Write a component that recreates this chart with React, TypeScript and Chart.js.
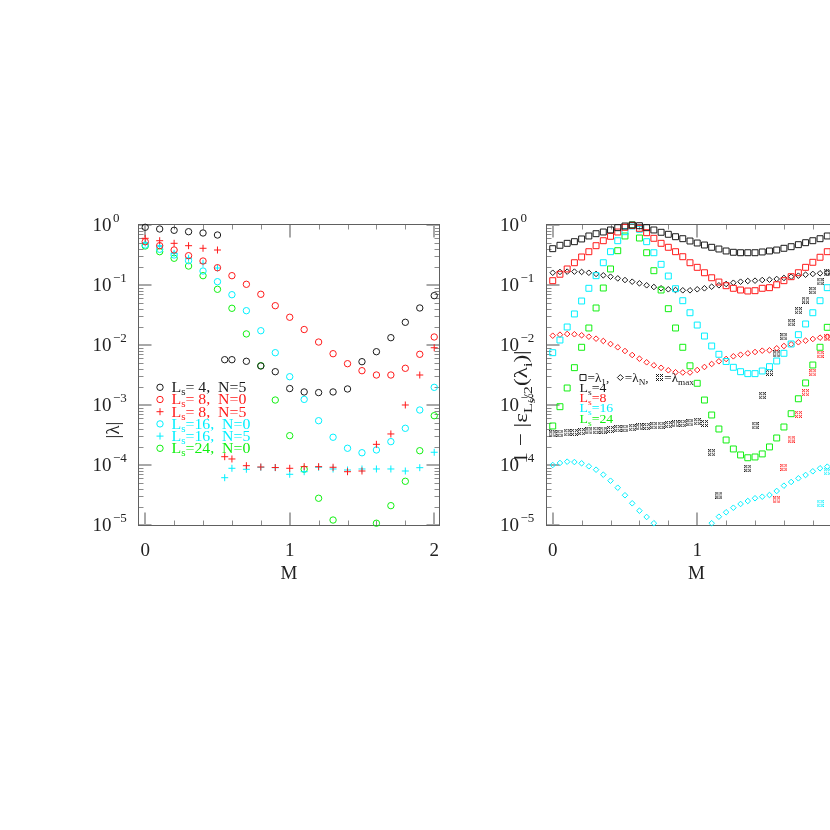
import React, { useEffect, useRef } from 'react';
import { Chart, registerables } from 'chart.js';
Chart.register(...registerables);

const SERIF = '"Liberation Serif", "DejaVu Serif", "Times New Roman", serif';

const BLACK = '#1a1a1a';
const RED = '#ff1a1a';
const CYAN = '#00f0ff';
const GREEN = '#10f010';

// ---------------- left panel data (|lambda| vs M) ----------------
const mLeft = [0, 0.1, 0.2, 0.3, 0.4, 0.5, 0.55, 0.6, 0.7, 0.8, 0.9, 1.0, 1.1, 1.2, 1.3, 1.4, 1.5, 1.6, 1.7, 1.8, 1.9, 2.0];
const ls4N5 = [0.916, 0.858, 0.816, 0.773, 0.736, 0.681, 0.00569, 0.00569, 0.00535, 0.00447, 0.00359, 0.00188, 0.00165, 0.00161, 0.00165, 0.00185, 0.00527, 0.00773, 0.01324, 0.0239, 0.0414, 0.0664];
const ls8N0 = [0.527, 0.452, 0.383, 0.308, 0.251, 0.194, null, 0.143, 0.1027, 0.07, 0.0452, 0.029, 0.0181, 0.0112, 0.00716, 0.00488, 0.00373, 0.00316, 0.00316, 0.00409, 0.007, 0.0136];
const ls8N5 = [0.6, 0.547, 0.495, 0.452, 0.409, 0.383, 1.375e-4, 1.26e-4, 9.74e-5, 9.26e-5, 9.08e-5, 8.81e-5, 9.38e-5, 9.38e-5, 9.16e-5, 7.73e-5, 7.94e-5, 2.21e-4, 3.29e-4, 1.0e-3, 3.16e-3, 9.0e-3];
const ls16N0 = [0.464, 0.394, 0.316, 0.254, 0.171, 0.1135, null, 0.0689, 0.0373, 0.0173, 0.00744, 0.00296, 0.00124, 5.47e-4, 2.9e-4, 1.9e-4, 1.6e-4, 1.78e-4, 2.45e-4, 4.09e-4, 8.25e-4, 1.97e-3];
const ls16N5 = [0.501, 0.452, 0.337, 0.279, 0.23, 0.192, 6.14e-5, 8.81e-5, 8.48e-5, 9.16e-5, 9.02e-5, 7.0e-5, 7.73e-5, 9.16e-5, 8.58e-5, 8.25e-5, 8.58e-5, 8.58e-5, 8.58e-5, 7.94e-5, 9.02e-5, 1.63e-4];
const ls24N0 = [0.447, 0.359, 0.279, 0.207, 0.143, 0.0848, null, 0.0409, 0.0153, 0.00452, 0.00121, 3.08e-4, 8.5e-5, 2.79e-5, 1.21e-5, null, null, 1.07e-5, 2.1e-5, 5.35e-5, 1.73e-4, 6.63e-4];

// ---------------- right panel data (1 - |eps|) vs M ----------------
const mRight = [0, 0.05, 0.1, 0.15, 0.2, 0.25, 0.3, 0.35, 0.4, 0.45, 0.5, 0.55, 0.6, 0.65, 0.7, 0.75, 0.8, 0.85, 0.9, 0.95, 1.0, 1.05, 1.1, 1.15, 1.2, 1.25, 1.3, 1.35, 1.4, 1.45, 1.5, 1.55, 1.6, 1.65, 1.7, 1.75, 1.8, 1.85, 1.9];
const l1Ls4 = [0.403, 0.459, 0.495, 0.527, 0.585, 0.656, 0.716, 0.764, 0.826, 0.902, 0.962, 1.0, 0.973, 0.902, 0.826, 0.756, 0.7, 0.638, 0.591, 0.541, 0.501, 0.464, 0.425, 0.398, 0.369, 0.351, 0.345, 0.345, 0.345, 0.355, 0.369, 0.383, 0.409, 0.435, 0.47, 0.507, 0.547, 0.591, 0.656];
const l1Ls8 = [0.118, 0.151, 0.185, 0.235, 0.293, 0.359, 0.452, 0.547, 0.648, 0.764, 0.916, 0.98, 0.881, 0.744, 0.6, 0.495, 0.425, 0.359, 0.296, 0.235, 0.197, 0.16, 0.132, 0.112, 0.0973, 0.0881, 0.0825, 0.0794, 0.0804, 0.0881, 0.0902, 0.101, 0.118, 0.1375, 0.16, 0.197, 0.239, 0.29, 0.359];
const l1Ls16 = [0.00744, 0.0121, 0.01995, 0.0329, 0.0541, 0.0881, 0.143, 0.235, 0.359, 0.547, 0.773, 0.962, 0.848, 0.527, 0.345, 0.221, 0.141, 0.0867, 0.0547, 0.0345, 0.0215, 0.0141, 0.00962, 0.007, 0.00531, 0.00425, 0.00359, 0.00333, 0.00333, 0.00369, 0.00435, 0.00541, 0.00727, 0.0104, 0.01486, 0.0224, 0.0345, 0.0547, 0.0902];
const l1Ls24 = [4.47e-4, 9.37e-4, 1.92e-3, 4.19e-3, 9.16e-3, 0.0192, 0.0414, 0.0891, 0.185, 0.373, 0.656, 1.0, 0.607, 0.345, 0.173, 0.0825, 0.0403, 0.0192, 9.16e-3, 4.5e-3, 2.3e-3, 1.21e-3, 6.81e-4, 3.98e-4, 2.61e-4, 1.85e-4, 1.47e-4, 1.32e-4, 1.36e-4, 1.53e-4, 2.0e-4, 2.82e-4, 4.3e-4, 7.16e-4, 1.27e-3, 2.33e-3, 4.64e-3, 9.16e-3, 0.0197];
const lNLs4 = [0.16, 0.165, 0.167, 0.167, 0.165, 0.16, 0.153, 0.145, 0.1375, 0.129, 0.121, 0.1135, 0.1067, 0.0989, 0.0926, 0.0881, 0.0848, 0.0825, 0.0816, 0.0816, 0.0848, 0.0881, 0.0937, 0.0989, 0.104, 0.109, 0.1135, 0.1166, 0.118, 0.121, 0.1225, 0.126, 0.131, 0.1375, 0.143, 0.1485, 0.153, 0.1567, 0.16];
const lNLs8 = [0.01429, 0.01486, 0.01525, 0.0151, 0.01452, 0.01375, 0.01274, 0.01166, 0.0104, 0.00916, 0.00794, 0.00681, 0.00591, 0.00515, 0.00459, 0.00417, 0.00379, 0.00351, 0.00348, 0.00348, 0.00383, 0.0043, 0.00483, 0.00535, 0.00585, 0.00648, 0.00689, 0.00727, 0.00764, 0.00804, 0.00816, 0.00881, 0.00962, 0.01028, 0.0111, 0.0118, 0.0126, 0.01324, 0.01375];
const lNLs16 = [1.0e-4, 1.08e-4, 1.135e-4, 1.12e-4, 1.067e-4, 9.51e-5, 8.35e-5, 6.89e-5, 5.47e-5, 4.18e-5, 3.13e-5, 2.3e-5, 1.73e-5, 1.36e-5, 1.07e-5, null, null, null, null, null, null, null, 1.07e-5, 1.375e-5, 1.63e-5, 1.94e-5, 2.24e-5, 2.51e-5, 2.79e-5, 2.96e-5, 3.16e-5, 3.69e-5, 4.52e-5, 5.21e-5, 6.0e-5, 6.81e-5, 7.85e-5, 8.81e-5, 9.38e-5];
const lMaxLs4 = [3.29e-4, 3.38e-4, 3.45e-4, 3.51e-4, 3.59e-4, 3.69e-4, 3.79e-4, 3.83e-4, 3.93e-4, 4.03e-4, 4.09e-4, 4.19e-4, 4.3e-4, 4.41e-4, 4.52e-4, 4.59e-4, 4.7e-4, 4.83e-4, 4.95e-4, 5.07e-4, 5.27e-4, 4.95e-4, 1.6e-4, 3.16e-5, null, null, null, 8.81e-5, 4.52e-4, 1.43e-3, 3.51e-3, 7.08e-3, 0.01375, 0.0235, 0.0373, 0.0562, 0.0804, 0.1135, 0.16];
const lMaxLs8 = [null, null, null, null, null, null, null, null, null, null, null, null, null, null, null, null, null, null, null, null, null, null, null, null, null, null, null, null, null, null, null, 2.61e-5, 9.16e-5, 2.71e-4, 7.0e-4, 1.6e-3, 3.45e-3, 7.0e-3, 0.0131];
const lMaxLs16 = [null, null, null, null, null, null, null, null, null, null, null, null, null, null, null, null, null, null, null, null, null, null, null, null, null, null, null, null, null, null, null, null, null, null, null, null, null, 2.3e-5, 7.73e-5];

// ---------------- axes text ----------------
const xTickValues = [0, 1, 2];
const xTickLabels = ['0', '1', '2'];
const yDecades = [0, -1, -2, -3, -4, -5];
const yTickBase = '10';
const yTickExps = ['0', '\u22121', '\u22122', '\u22123', '\u22124', '\u22125'];
const xTitle = 'M';

const leftLegend = [
  { ls: ' 4', n: '5', color: BLACK, marker: 'circle' },
  { ls: ' 8', n: '0', color: RED, marker: 'circle' },
  { ls: ' 8', n: '5', color: RED, marker: 'plus' },
  { ls: '16', n: '0', color: CYAN, marker: 'circle' },
  { ls: '16', n: '5', color: CYAN, marker: 'plus' },
  { ls: '24', n: '0', color: GREEN, marker: 'circle' },
];
const rightLegend = [
  { ls: '4', color: BLACK },
  { ls: '8', color: RED },
  { ls: '16', color: CYAN },
  { ls: '24', color: GREEN },
];

type Seg = { t?: string; k?: number; dy?: number; sym?: string; color?: string };

function makeMaxSym(color: string): HTMLCanvasElement {
  const c = document.createElement('canvas');
  c.width = 7;
  c.height = 7;
  const g = c.getContext('2d')!;
  g.fillStyle = color;
  const map = ['x.x.x.x', '.x...x.', 'x.x.x.x', '.......', 'x.x.x.x', '.x...x.', 'x.x.x.x'];
  map.forEach((row, j) => {
    for (let i = 0; i < row.length; i++) if (row[i] === 'x') g.fillRect(i, j, 1, 1);
  });
  return c;
}

function drawSym(ctx: CanvasRenderingContext2D, sym: string, x: number, y: number, color: string) {
  ctx.save();
  ctx.strokeStyle = color;
  ctx.lineWidth = 1;
  ctx.beginPath();
  if (sym === 'circle') {
    ctx.arc(x, y, 3.2, 0, Math.PI * 2);
  } else if (sym === 'plus') {
    ctx.moveTo(x - 3.5, y); ctx.lineTo(x + 3.5, y);
    ctx.moveTo(x, y - 3.5); ctx.lineTo(x, y + 3.5);
  } else if (sym === 'square') {
    ctx.rect(x - 3, y - 3, 6, 6);
  } else if (sym === 'diamond') {
    ctx.moveTo(x, y - 3); ctx.lineTo(x + 3, y); ctx.lineTo(x, y + 3); ctx.lineTo(x - 3, y); ctx.closePath();
  } else if (sym === 'max') {
    ctx.drawImage(makeMaxSym(color), Math.round(x - 3.5), Math.round(y - 3.5));
  }
  ctx.stroke();
  ctx.restore();
}

// draws a run of text pieces (with sub/superscripts); sx stretches glyphs horizontally
function drawSegs(ctx: CanvasRenderingContext2D, segs: Seg[], x: number, y: number, size: number, color: string, align: string, sx = 1) {
  let w = 0;
  const widths: number[] = [];
  for (const s of segs) {
    if (s.sym) { widths.push(9); w += 9; continue; }
    ctx.font = `${size * (s.k ?? 1)}px ${SERIF}`;
    const ww = ctx.measureText(s.t!).width * sx;
    widths.push(ww);
    w += ww;
  }
  let cx = align === 'center' ? x - w / 2 : x;
  ctx.textAlign = 'left';
  ctx.textBaseline = 'alphabetic';
  segs.forEach((s, i) => {
    const col = s.color ?? color;
    if (s.sym) {
      drawSym(ctx, s.sym, cx + 4.5, y - size * 0.33, col);
    } else {
      ctx.save();
      ctx.font = `${size * (s.k ?? 1)}px ${SERIF}`;
      ctx.fillStyle = col;
      ctx.translate(cx, y + (s.dy ?? 0));
      ctx.scale(sx, 1);
      ctx.fillText(s.t!, 0, 0);
      ctx.restore();
    }
    cx += widths[i];
  });
}

function drawFrame(chart: any) {
  const { ctx, chartArea: a } = chart;
  const xs = chart.scales.x;
  const ys = chart.scales.y;
  ctx.save();
  const L = Math.round(a.left) + 0.5, R = Math.round(a.right) - 0.5;
  const T = Math.round(a.top) + 0.5, B = Math.round(a.bottom) - 0.5;
  // minor ticks
  ctx.strokeStyle = '#8c8c8c';
  ctx.lineWidth = 1;
  ctx.beginPath();
  for (let i = 0; i <= 10; i++) {
    if (i % 5 === 0) continue;
    const px = Math.round(xs.getPixelForValue(i * 0.2)) + 0.5;
    ctx.moveTo(px, B); ctx.lineTo(px, B - 5);
    ctx.moveTo(px, T); ctx.lineTo(px, T + 5);
  }
  for (let e = -5; e <= 0; e++) {
    for (let k = 2; k <= 9; k++) {
      const v = k * Math.pow(10, e);
      if (v > ys.max) continue;
      const py = Math.round(ys.getPixelForValue(v)) + 0.5;
      ctx.moveTo(L, py); ctx.lineTo(L + 5, py);
      ctx.moveTo(R, py); ctx.lineTo(R - 5, py);
    }
  }
  ctx.stroke();
  // major ticks
  ctx.strokeStyle = '#a8a8a8';
  ctx.lineWidth = 2;
  ctx.beginPath();
  for (const v of xTickValues) {
    const px = Math.round(xs.getPixelForValue(v));
    ctx.moveTo(px, B); ctx.lineTo(px, B - 13);
    ctx.moveTo(px, T); ctx.lineTo(px, T + 13);
  }
  for (const e of yDecades) {
    const py = Math.round(ys.getPixelForValue(Math.pow(10, e)));
    ctx.moveTo(L, py); ctx.lineTo(L + 13, py);
    ctx.moveTo(R, py); ctx.lineTo(R - 13, py);
  }
  ctx.stroke();
  ctx.strokeStyle = '#606060';
  ctx.lineWidth = 1;
  ctx.strokeRect(L, T, R - L, B - T);
  ctx.restore();
}

function drawAxisText(chart: any, yTitle: Seg[], yTitleX: number, yTitleY: number, titleSize: number, titleStretch: number) {
  const { ctx, chartArea: a } = chart;
  const xs = chart.scales.x;
  const ys = chart.scales.y;
  ctx.save();
  ctx.fillStyle = '#222';
  ctx.textBaseline = 'alphabetic';
  ctx.font = `19px ${SERIF}`;
  ctx.textAlign = 'center';
  xTickValues.forEach((v, i) => {
    ctx.fillText(xTickLabels[i], xs.getPixelForValue(v), a.bottom + 29.5);
  });
  ctx.fillText(xTitle, (a.left + a.right) / 2, a.bottom + 53);
  ctx.textAlign = 'left';
  yDecades.forEach((e, i) => {
    const py = ys.getPixelForValue(Math.pow(10, e));
    const x0 = a.left - 45.5;
    ctx.font = `19px ${SERIF}`;
    ctx.fillText(yTickBase, x0, py + 5.7);
    const w = ctx.measureText(yTickBase).width;
    ctx.font = `13px ${SERIF}`;
    ctx.fillText(yTickExps[i], x0 + w + 1.5, py - 3.3);
  });
  ctx.translate(yTitleX, yTitleY);
  ctx.rotate(-Math.PI / 2);
  drawSegs(ctx, yTitle, 0, 6, titleSize, '#222', 'center', titleStretch);
  ctx.restore();
}

function pts(ms: number[], vs: (number | null)[]) {
  return ms.map((m, i) => ({ x: m, y: vs[i] })).filter((p) => p.y !== null) as { x: number; y: number }[];
}

function ds(data: any[], color: string, style: any, radius: number) {
  return {
    data,
    showLine: false,
    pointStyle: style,
    pointRadius: radius,
    pointHoverRadius: radius,
    pointBorderColor: color,
    pointBackgroundColor: 'rgba(0,0,0,0)',
    borderColor: color,
    backgroundColor: 'rgba(0,0,0,0)',
    pointBorderWidth: 1,
    borderWidth: 1,
    clip: false,
  };
}

function baseOptions(padding: any, plugin: any) {
  return {
    type: 'scatter' as const,
    options: {
      responsive: false,
      animation: false as const,
      devicePixelRatio: 1,
      events: [],
      layout: { padding },
      plugins: { legend: { display: false }, tooltip: { enabled: false } },
      scales: {
        x: { type: 'linear' as const, min: -0.05, max: 2.04, display: false },
        y: { type: 'logarithmic' as const, min: 9.62e-6, max: 1.039, display: false },
      },
    },
    plugins: [plugin],
  };
}

export default function App() {
  const leftRef = useRef<HTMLCanvasElement>(null);
  const rightRef = useRef<HTMLCanvasElement>(null);

  useEffect(() => {
    const leftPlugin = {
      id: 'leftAxes',
      beforeDatasetsDraw(chart: any) { drawFrame(chart); },
      afterDatasetsDraw(chart: any) {
        drawAxisText(chart, [{ t: '|\u03bb|' }], 113, 430, 19, 1);
        const ctx = chart.ctx;
        leftLegend.forEach((r, i) => {
          const yc = 387.3 + i * 12.2;
          drawSym(ctx, r.marker, 160, yc, r.color);
          drawSegs(ctx, [
            { t: 'L' }, { t: 's', k: 0.7, dy: 3 }, { t: '=' + r.ls + ',  N=' + r.n },
          ], 171.5, yc + 4.8, 14, r.color, 'left', 1.13);
        });
      },
    };
    const lcfg: any = baseOptions({ left: 138, top: 224, right: 390, bottom: 304 }, leftPlugin);
    lcfg.data = {
      datasets: [
        ds(pts(mLeft, ls4N5), BLACK, 'circle', 3.2),
        ds(pts(mLeft, ls8N0), RED, 'circle', 3.2),
        ds(pts(mLeft, ls8N5), RED, 'cross', 3.5),
        ds(pts(mLeft, ls16N0), CYAN, 'circle', 3.2),
        ds(pts(mLeft, ls16N5), CYAN, 'cross', 3.5),
        ds(pts(mLeft, ls24N0), GREEN, 'circle', 3.2),
      ],
    };

    const rightPlugin = {
      id: 'rightAxes',
      beforeDatasetsDraw(chart: any) { drawFrame(chart); },
      afterDatasetsDraw(chart: any) {
        drawAxisText(chart, [
          { t: '1 \u2212 |\u03b5' }, { t: 'L', k: 0.7, dy: 5 }, { t: 's', k: 0.5, dy: 8 }, { t: '/2', k: 0.7, dy: 5 },
          { t: '(\u03bb' }, { t: 'i', k: 0.7, dy: 5 }, { t: ')|' },
        ], 521, 407, 19, 1.22);
        const ctx = chart.ctx;
        drawSegs(ctx, [
          { sym: 'square' }, { t: '=\u03bb' }, { t: '1', k: 0.7, dy: 3 }, { t: ',  ' },
          { sym: 'diamond' }, { t: '=\u03bb' }, { t: 'N', k: 0.7, dy: 3 }, { t: ',  ' },
          { sym: 'max' }, { t: '=\u03bb' }, { t: 'max', k: 0.7, dy: 3 },
        ], 578.5, 381.5, 12, BLACK, 'left', 1.1);
        rightLegend.forEach((r, i) => {
          drawSegs(ctx, [{ t: 'L' }, { t: 's', k: 0.7, dy: 3 }, { t: '=' + r.ls }], 579.5, 391.7 + i * 10.3, 12, r.color, 'left', 1.15);
        });
      },
    };
    const rcfg: any = baseOptions({ left: 545.5, top: 224, right: 152.5, bottom: 304 }, rightPlugin);
    rcfg.data = {
      datasets: [
        ds(pts(mRight, l1Ls4), BLACK, 'rect', 4.2),
        ds(pts(mRight, l1Ls8), RED, 'rect', 4.2),
        ds(pts(mRight, l1Ls16), CYAN, 'rect', 4.2),
        ds(pts(mRight, l1Ls24), GREEN, 'rect', 4.2),
        ds(pts(mRight, lNLs4), BLACK, 'rectRot', 2.8),
        ds(pts(mRight, lNLs8), RED, 'rectRot', 2.8),
        ds(pts(mRight, lNLs16), CYAN, 'rectRot', 2.8),
        ds(pts(mRight, lMaxLs4), BLACK, makeMaxSym(BLACK), 3.5),
        ds(pts(mRight, lMaxLs8), RED, makeMaxSym(RED), 3.5),
        ds(pts(mRight, lMaxLs16), CYAN, makeMaxSym(CYAN), 3.5),
      ],
    };

    const c1 = new Chart(leftRef.current!, lcfg);
    const c2 = new Chart(rightRef.current!, rcfg);
    return () => {
      c1.destroy();
      c2.destroy();
    };
  }, []);

  return (
    <div style={{ position: 'fixed', left: 0, top: 0, width: 830, height: 830, overflow: 'hidden', background: '#fff' }}>
      <canvas ref={leftRef} width={830} height={830} style={{ position: 'absolute', left: 0, top: 0 }} />
      <canvas ref={rightRef} width={1000} height={830} style={{ position: 'absolute', left: 0, top: 0 }} />
    </div>
  );
}
